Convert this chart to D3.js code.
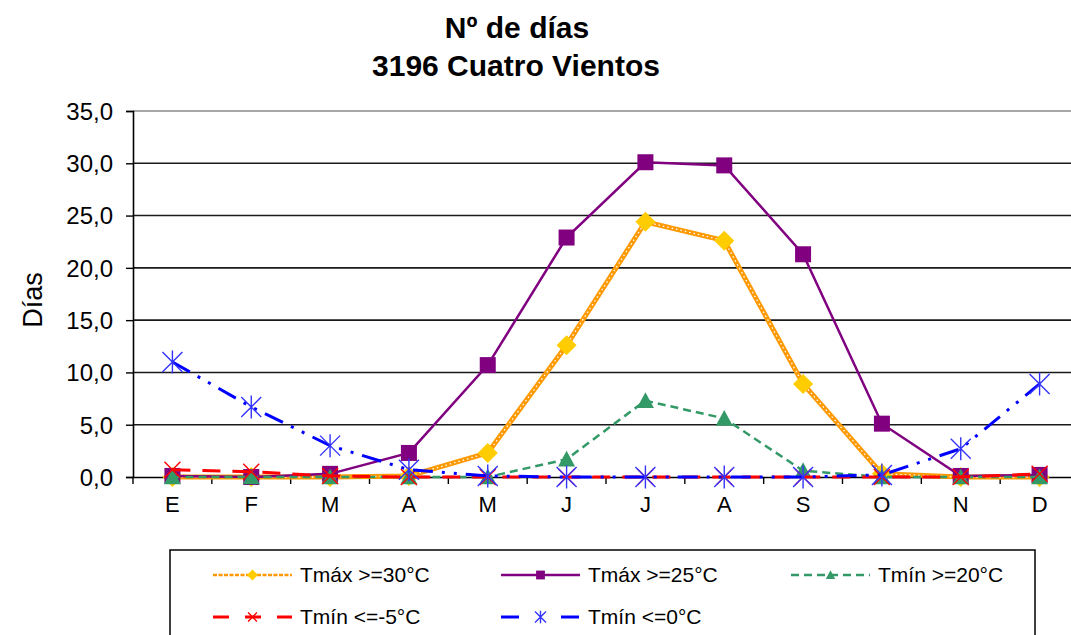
<!DOCTYPE html>
<html>
<head>
<meta charset="utf-8">
<script src="https://cdn.jsdelivr.net/npm/d3@7"></script>
<style>
  body { margin: 0; background: #fff; }
  text { font-family: 'Liberation Sans', Arial, sans-serif; fill: #000; }
</style>
</head>
<body>
<div id="chart"></div>
<script>
const months = ['E', 'F', 'M', 'A', 'M', 'J', 'J', 'A', 'S', 'O', 'N', 'D'];
const tmax30 = [0, 0, 0, 0.1, 2.3, 12.6, 24.4, 22.6, 8.9, 0.3, 0, 0];
const tmax25 = [0.1, 0, 0.3, 2.3, 10.7, 22.9, 30.1, 29.8, 21.3, 5.1, 0.1, 0.2];
const tmin20 = [0, 0, 0, 0, 0, 1.7, 7.3, 5.6, 0.6, 0, 0, 0];
const tminM5 = [0.7, 0.5, 0.1, 0, 0, 0, 0, 0, 0, 0, 0, 0.3];
const tmin0 = [11.0, 6.7, 3.0, 0.7, 0.1, 0, 0, 0, 0, 0.2, 2.7, 8.9];
const yTicks = [0, 5, 10, 15, 20, 25, 30, 35];

const W = 1071, H = 635;
const margin = { top: 111, left: 133, bottom: 158 };
const plotW = 946;
const plotH = H - margin.top - margin.bottom;

const svg = d3.select('#chart').append('svg').attr('width', W).attr('height', H);

// titles
svg.append('text').attr('x', 517).attr('y', 38).attr('text-anchor', 'middle')
  .attr('font-size', 30).attr('font-weight', 'bold').text('Nº de días');
svg.append('text').attr('x', 516).attr('y', 76).attr('text-anchor', 'middle')
  .attr('font-size', 30).attr('font-weight', 'bold').text('3196 Cuatro Vientos');

const g = svg.append('g').attr('transform', `translate(${margin.left},${margin.top})`);

const x = d3.scaleBand().domain(d3.range(12)).range([0, plotW]);
const y = d3.scaleLinear().domain([0, 35]).range([plotH, 0]);
const cx = (i) => x(i) + x.bandwidth() / 2;

// grid
g.append('g').selectAll('line').data(yTicks.filter((t) => t > 0)).join('line')
  .attr('x1', 0).attr('x2', plotW)
  .attr('y1', (d) => y(d)).attr('y2', (d) => y(d))
  .attr('stroke', (d) => (d === 35 ? '#8a8a8a' : '#1a1a1a'))
  .attr('stroke-width', 1.6);

// y axis
const yAxis = g.append('g').call(d3.axisLeft(y).tickValues(yTicks).tickSize(7).tickPadding(13)
  .tickFormat((d) => d3.format('.1f')(d).replace('.', ',')));
yAxis.select('.domain').attr('stroke', '#000').attr('stroke-width', 1.6);
yAxis.selectAll('.tick line').attr('stroke', '#000').attr('stroke-width', 1.4);
yAxis.selectAll('text').attr('font-size', 24).attr('fill', '#222').attr('dy', '0.35em')
  .style('font-family', "'Liberation Sans', Arial, sans-serif");

// x axis
const xAxis = g.append('g').attr('transform', `translate(0,${plotH})`)
  .call(d3.axisBottom(x).tickSize(0).tickPadding(19).tickFormat((i) => months[i]));
xAxis.select('.domain').attr('stroke', '#000').attr('stroke-width', 1.6);
xAxis.selectAll('text').attr('font-size', 22).attr('fill', '#222')
  .style('font-family', "'Liberation Sans', Arial, sans-serif");
g.append('g').selectAll('line').data(d3.range(13)).join('line')
  .attr('x1', (i) => i * x.step()).attr('x2', (i) => i * x.step())
  .attr('y1', plotH).attr('y2', plotH + 7)
  .attr('stroke', '#000').attr('stroke-width', 1.4);

svg.append('text').attr('transform', 'translate(42,300) rotate(-90)')
  .attr('text-anchor', 'middle').attr('font-size', 27).attr('fill', '#222').text('Días');

const line = d3.line().x((d, i) => cx(i)).y((d) => y(d));

function marker(sel, type, size) {
  const s = size / 2;
  if (type === 'diamond') {
    sel.append('path').attr('d', `M0,${-s}L${s},0L0,${s}L${-s},0Z`).attr('fill', '#FFCC00');
  } else if (type === 'square') {
    sel.append('rect').attr('x', -s).attr('y', -s).attr('width', size).attr('height', size).attr('fill', '#800080');
  } else if (type === 'triangle') {
    sel.append('path').attr('d', `M0,${-s}L${s},${s * 0.85}L${-s},${s * 0.85}Z`).attr('fill', '#339966');
  } else if (type === 'x') {
    sel.append('path').attr('d', `M${-s},${-s}L${s},${s}M${s},${-s}L${-s},${s}`)
      .attr('stroke', '#FF0000').attr('stroke-width', 1.4).attr('fill', 'none');
  } else if (type === 'star') {
    sel.append('path').attr('d', `M${-s},${-s}L${s},${s}M${s},${-s}L${-s},${s}M0,${-s * 1.15}L0,${s * 1.15}`)
      .attr('stroke', '#3333FF').attr('stroke-width', 1.4).attr('fill', 'none');
  }
}

const series = [
  { name: 'Tmáx >=30°C', values: tmax30, color: '#FF9900', width: 5, dash: null, overlay: true, marker: 'diamond', size: 20 },
  { name: 'Tmáx >=25°C', values: tmax25, color: '#800080', width: 2.5, dash: null, marker: 'square', size: 16 },
  { name: 'Tmín >=20°C', values: tmin20, color: '#339966', width: 2.5, dash: '8,5', marker: 'triangle', size: 17 },
  { name: 'Tmín <=-5°C', values: tminM5, color: '#FF0000', width: 3, dash: '18,12', marker: 'x', size: 16 },
  { name: 'Tmín <=0°C', values: tmin0, color: '#0000FF', width: 3, dash: '20,9,3,9,3,9', marker: 'star', size: 20 },
];

series.forEach((s) => {
  const sg = g.append('g');
  sg.append('path').attr('d', line(s.values)).attr('fill', 'none')
    .attr('stroke', s.color).attr('stroke-width', s.width)
    .attr('stroke-dasharray', s.dash);
  if (s.overlay) {
    sg.append('path').attr('d', line(s.values)).attr('fill', 'none')
      .attr('stroke', '#fff').attr('stroke-width', 1.3).attr('stroke-dasharray', '1.5,3');
  }
  s.values.forEach((v, i) => {
    marker(sg.append('g').attr('transform', `translate(${cx(i)},${y(v)})`), s.marker, s.size);
  });
});

// legend
const lg = svg.append('g');
lg.append('rect').attr('x', 170).attr('y', 550).attr('width', 865).attr('height', 100)
  .attr('fill', '#fff').attr('stroke', '#000').attr('stroke-width', 1.5);
const legendPos = [
  { x: 213, y: 575 }, { x: 501, y: 575 }, { x: 791, y: 575 },
  { x: 213, y: 617 }, { x: 501, y: 617 },
];
series.forEach((s, k) => {
  const p = legendPos[k];
  const item = lg.append('g').attr('transform', `translate(${p.x},${p.y})`);
  const lw = Math.min(s.width, 3);
  item.append('line').attr('x1', 0).attr('x2', 79).attr('y1', 0).attr('y2', 0)
    .attr('stroke', s.color).attr('stroke-width', s.overlay ? 2.5 : lw)
    .attr('stroke-dasharray', s.overlay ? '4,1.5' : (s.dash ? (k === 2 ? '8,5' : '16,16') : null));
  if (k === 4) {
    item.select('line').attr('stroke-dasharray', '18,42');
  }
  marker(item.append('g').attr('transform', 'translate(39.5,0)'), s.marker, s.size * 0.55);
  item.append('text').attr('x', 87).attr('y', 0).attr('dy', '0.35em')
    .attr('font-size', 21).attr('fill', '#222').text(s.name);
});
</script>
</body>
</html>
